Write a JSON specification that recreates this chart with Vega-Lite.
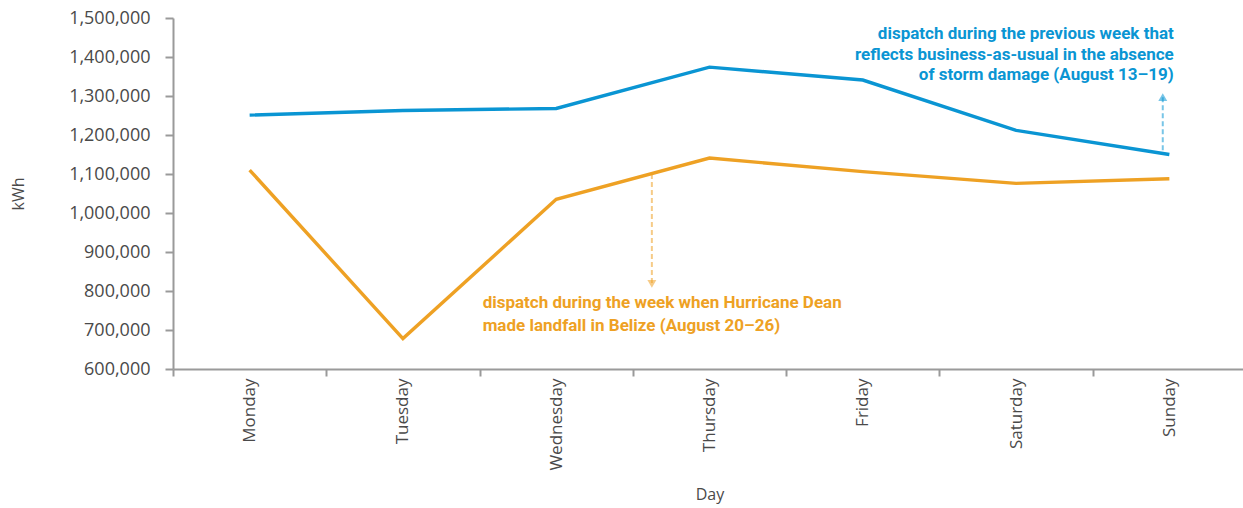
{
  "$schema": "https://vega.github.io/schema/vega-lite/v6.json",
  "width": 1073,
  "height": 351,
  "padding": {"left": 10, "top": 9, "right": 0, "bottom": 6},
  "config": {
    "view": {"stroke": null},
    "font": "Open Sans",
    "axis": {
      "domainColor": "#9a9a9a",
      "tickColor": "#9a9a9a",
      "labelColor": "#4a4a4a",
      "titleColor": "#4a4a4a",
      "labelFontSize": 17,
      "titleFontSize": 16,
      "titleFontWeight": "normal",
      "grid": false,
      "domainWidth": 2,
      "tickWidth": 2
    }
  },
  "datasets": {
    "dispatch": [
      {"Day": "Monday", "Week": "previous", "kWh": 1251000},
      {"Day": "Tuesday", "Week": "previous", "kWh": 1263000},
      {"Day": "Wednesday", "Week": "previous", "kWh": 1268000},
      {"Day": "Thursday", "Week": "previous", "kWh": 1374000},
      {"Day": "Friday", "Week": "previous", "kWh": 1341000},
      {"Day": "Saturday", "Week": "previous", "kWh": 1212000},
      {"Day": "Sunday", "Week": "previous", "kWh": 1150000},
      {"Day": "Monday", "Week": "hurricane", "kWh": 1110000},
      {"Day": "Tuesday", "Week": "hurricane", "kWh": 678000},
      {"Day": "Wednesday", "Week": "hurricane", "kWh": 1035000},
      {"Day": "Thursday", "Week": "hurricane", "kWh": 1141000},
      {"Day": "Friday", "Week": "hurricane", "kWh": 1106000},
      {"Day": "Saturday", "Week": "hurricane", "kWh": 1076000},
      {"Day": "Sunday", "Week": "hurricane", "kWh": 1088000}
    ],
    "notes": [
      {"Week": "previous", "pos": 6.529, "kWh": 1459000, "label": "dispatch during the previous week that"},
      {"Week": "previous", "pos": 6.529, "kWh": 1405000, "label": "reflects business-as-usual in the absence"},
      {"Week": "previous", "pos": 6.529, "kWh": 1354000, "label": "of storm damage (August 13–19)"},
      {"Week": "hurricane", "pos": 2.02, "kWh": 769000, "label": "dispatch during the week when Hurricane Dean"},
      {"Week": "hurricane", "pos": 2.02, "kWh": 710000, "label": "made landfall in Belize (August 20–26)"}
    ],
    "arrows": [
      {"Week": "previous", "pos": 6.457, "from": 1161000, "to": 1297000, "dir": "up"},
      {"Week": "hurricane", "pos": 3.124, "from": 1100000, "to": 818000, "dir": "down"}
    ]
  },
  "resolve": {"scale": {"x": "independent"}},
  "layer": [
    {
      "data": {"name": "dispatch"},
      "mark": {"type": "line", "strokeWidth": 3.4},
      "encoding": {
        "x": {
          "field": "Day", "type": "ordinal",
          "sort": ["Monday", "Tuesday", "Wednesday", "Thursday", "Friday", "Saturday", "Sunday"],
          "scale": {"type": "band", "paddingInner": 0, "paddingOuter": 0},
          "axis": {"tickBand": "extent", "labelAngle": -90, "title": "Day", "tickSize": 7, "labelPadding": 2, "titlePadding": 16}
        },
        "y": {
          "field": "kWh", "type": "quantitative",
          "scale": {"domain": [600000, 1500000], "nice": false, "zero": false},
          "axis": {"values": [600000, 700000, 800000, 900000, 1000000, 1100000, 1200000, 1300000, 1400000, 1500000], "labelExpr": "format(datum.value, ',')", "labelFontSize": 18, "title": "kWh", "tickSize": 8, "labelPadding": 15, "titlePadding": 42}
        },
        "color": {"field": "Week", "type": "nominal", "scale": {"domain": ["previous", "hurricane"], "range": ["#0a95d3", "#eea124"]}, "legend": null}
      }
    },
    {
      "layer": [
        {
          "data": {"name": "arrows"},
          "mark": {"type": "rule", "strokeWidth": 2, "strokeDash": [5, 3], "opacity": 0.55},
          "encoding": {
            "x": {"field": "pos", "type": "quantitative", "scale": {"domain": [0, 7], "nice": false, "zero": false}, "axis": null},
            "y": {"field": "from", "type": "quantitative", "axis": {"values": [600000, 700000, 800000, 900000, 1000000, 1100000, 1200000, 1300000, 1400000, 1500000], "labelExpr": "format(datum.value, ',')", "labelFontSize": 18, "title": "kWh", "tickSize": 8, "labelPadding": 15, "titlePadding": 42}},
            "y2": {"field": "to"},
            "color": {"field": "Week", "type": "nominal", "legend": null}
          }
        },
        {
          "data": {"name": "arrows"},
          "mark": {"type": "point", "filled": true, "size": 80, "opacity": 0.55},
          "encoding": {
            "x": {"field": "pos", "type": "quantitative", "scale": {"domain": [0, 7], "nice": false, "zero": false}, "axis": null},
            "y": {"field": "to", "type": "quantitative", "axis": {"values": [600000, 700000, 800000, 900000, 1000000, 1100000, 1200000, 1300000, 1400000, 1500000], "labelExpr": "format(datum.value, ',')", "labelFontSize": 18, "title": "kWh", "tickSize": 8, "labelPadding": 15, "titlePadding": 42}},
            "shape": {"field": "dir", "type": "nominal", "scale": {"domain": ["up", "down"], "range": ["triangle-up", "triangle-down"]}, "legend": null},
            "color": {"field": "Week", "type": "nominal", "legend": null}
          }
        },
        {
          "data": {"name": "notes"},
          "transform": [{"filter": "datum.Week == 'previous'"}],
          "mark": {"type": "text", "align": "right", "baseline": "middle", "font": "Roboto", "fontWeight": "bold", "fontSize": 17},
          "encoding": {
            "x": {"field": "pos", "type": "quantitative", "scale": {"domain": [0, 7], "nice": false, "zero": false}, "axis": null},
            "y": {"field": "kWh", "type": "quantitative", "axis": {"values": [600000, 700000, 800000, 900000, 1000000, 1100000, 1200000, 1300000, 1400000, 1500000], "labelExpr": "format(datum.value, ',')", "labelFontSize": 18, "title": "kWh", "tickSize": 8, "labelPadding": 15, "titlePadding": 42}},
            "text": {"field": "label"},
            "color": {"field": "Week", "type": "nominal", "legend": null}
          }
        },
        {
          "data": {"name": "notes"},
          "transform": [{"filter": "datum.Week == 'hurricane'"}],
          "mark": {"type": "text", "align": "left", "baseline": "middle", "font": "Roboto", "fontWeight": "bold", "fontSize": 17},
          "encoding": {
            "x": {"field": "pos", "type": "quantitative", "scale": {"domain": [0, 7], "nice": false, "zero": false}, "axis": null},
            "y": {"field": "kWh", "type": "quantitative", "axis": {"values": [600000, 700000, 800000, 900000, 1000000, 1100000, 1200000, 1300000, 1400000, 1500000], "labelExpr": "format(datum.value, ',')", "labelFontSize": 18, "title": "kWh", "tickSize": 8, "labelPadding": 15, "titlePadding": 42}},
            "text": {"field": "label"},
            "color": {"field": "Week", "type": "nominal", "legend": null}
          }
        }
      ]
    }
  ]
}
